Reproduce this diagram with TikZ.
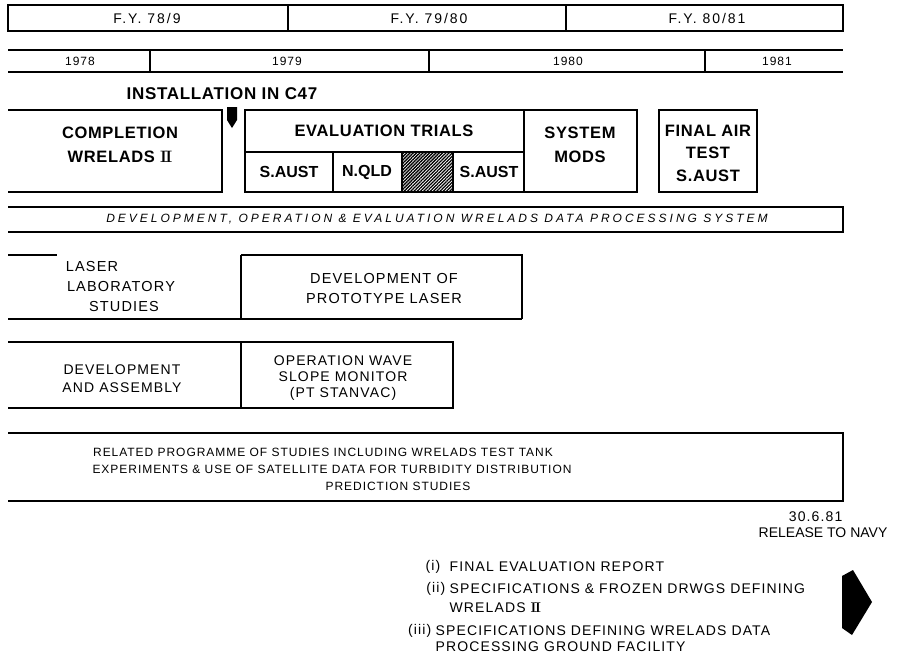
\documentclass[tikz,border=0pt]{standalone}
\usepackage{fontspec}
\usepackage{tikz}
\usetikzlibrary{patterns.meta}
\newfontfamily\plainsans{Liberation Sans}
\newfontfamily\boldsans{Liberation Sans}[LetterSpace=4]
\newfontfamily\fysans{Liberation Sans}[LetterSpace=14]
\newfontfamily\boxsans{Liberation Sans}[LetterSpace=8]
\newfontfamily\widesans{Liberation Sans}[LetterSpace=25]
\newcommand{\romtwo}{{\rmfamily\bfseries I\kern-0.1em I}}
\tikzset{
  fy/.style={font={\fysans\fontsize{14}{16}\selectfont},inner sep=0pt},
  yr/.style={font={\boxsans\fontsize{12}{14}\selectfont},inner sep=0pt},
  bold/.style={font={\boldsans\bfseries\fontsize{16.5}{24}\selectfont},align=center,inner sep=0pt},
  cell/.style={font={\plainsans\bfseries\fontsize{16}{20}\selectfont},inner sep=0pt},
  txt/.style={font={\boxsans\fontsize{14.5}{20}\selectfont},align=center,inner sep=0pt},
  small/.style={font={\boxsans\fontsize{12}{17}\selectfont},inner sep=0pt},
  item/.style={font={\boxsans\fontsize{14}{18}\selectfont},inner sep=0pt}
}

\begin{document}
\begin{tikzpicture}[x=1pt,y=-1pt,line width=1.3pt]
  \useasboundingbox (0,0) rectangle (897,654);
  % financial years
  \draw (8,5) rectangle (843,31);
  \draw (288,5)--(288,31) (566,5)--(566,31);
  \node[fy] (fy1) at (147,18) {F.Y. 78/9};
  \node[fy] (fy2) at (429,18) {F.Y. 79/80};
  \node[fy] (fy3) at (707,18) {F.Y. 80/81};
  % calendar years
  \draw (8,50)--(843,50) (8,72)--(843,72);
  \foreach \x in {150,429,705} \draw (\x,50)--(\x,72);
  \node[yr] (y78) at (80,61) {1978};
  \node[yr] (y79) at (287,61) {1979};
  \node[yr] (y80) at (568,61) {1980};
  \node[yr] (y81) at (777,61) {1981};
  % WRELADS II trials
  \node[bold,font={\boldsans\bfseries\fontsize{17}{20}\selectfont}] (inst) at (222,94) {INSTALLATION IN C47};
  \fill (227,107)--(237,107)--(237,120)--(232,128)--(227,120)--cycle;
  \draw (8,110)--(222,110)--(222,192)--(8,192);
  \node[bold] (compl) at (120,145) {COMPLETION\\WRELADS \romtwo};
  \draw (245,110) rectangle (637,192);
  \draw (245,152)--(524,152) (524,110)--(524,192) (333,152)--(333,192);
  \fill[pattern={Lines[angle=45,distance=2.3pt,line width=1.35pt]}] (402,152) rectangle (453,192);
  \draw (402,152) rectangle (453,192);
  \node[bold] (eval) at (384,131) {EVALUATION TRIALS};
  \node[cell] (sa1) at (289,172) {S.AUST};
  \node[cell] (nq) at (367,172) {N.QLD};
  \node[cell] (sa2) at (489,172) {S.AUST};
  \node[bold] (mods) at (580,145) {SYSTEM\\MODS};
  \draw (659,110) rectangle (757,192);
  \node[bold,font={\boldsans\bfseries\fontsize{16.5}{22.5}\selectfont}] (final) at (708,153) {FINAL AIR\\TEST\\S.AUST};
  % data processing
  \draw (8,207)--(843,207)--(843,232)--(8,232);
  \node[small,font={\widesans\itshape\fontsize{12}{14}\selectfont}] (dps) at (437,219)
    {DEVELOPMENT, OPERATION \& EVALUATION WRELADS DATA PROCESSING SYSTEM};
  % laser
  \draw (8,255)--(57,255);
  \draw (241,255)--(522,255)--(522,319) (241,255)--(241,319) (8,319)--(522,319);
  \node[txt] (las1) at (92,267) {LASER};
  \node[txt] (las2) at (121,287) {LABORATORY};
  \node[txt] (las3) at (124,307) {STUDIES};
  \node[txt] (proto) at (384,289) {DEVELOPMENT OF\\PROTOTYPE LASER};
  % wave slope monitor
  \draw (8,342)--(453,342)--(453,408)--(8,408) (241,342)--(241,408);
  \node[txt,font={\boxsans\fontsize{14}{18}\selectfont}] (assy) at (122,379) {DEVELOPMENT\\AND ASSEMBLY};
  \node[txt,font={\boxsans\fontsize{14}{16}\selectfont}] (wave) at (343,378) {OPERATION WAVE\\SLOPE MONITOR\\(PT STANVAC)};
  % related studies
  \draw (8,433)--(843,433)--(843,501)--(8,501);
  \node[small] (rel1) at (323,452) {RELATED PROGRAMME OF STUDIES INCLUDING WRELADS TEST TANK};
  \node[small] (rel2) at (332,469) {EXPERIMENTS \& USE OF SATELLITE DATA FOR TURBIDITY DISTRIBUTION};
  \node[small] (rel3) at (398,486) {PREDICTION STUDIES};
  % release
  \node[item,anchor=east] (date) at (843,517) {30.6.81};
  \node[item,font={\plainsans\fontsize{14}{18}\selectfont},anchor=east] (rel) at (888,533) {RELEASE TO NAVY};
  \node[item,anchor=east] (n1) at (441,567) {(i)};
  \node[item,anchor=west] (t1) at (449,567) {FINAL EVALUATION REPORT};
  \node[item,anchor=east] (n2) at (446,589) {(ii)};
  \node[item,anchor=west] (t2) at (449,589) {SPECIFICATIONS \& FROZEN DRWGS DEFINING};
  \node[item,anchor=west] (t2b) at (449,608) {WRELADS \romtwo};
  \node[item,anchor=east] (n3) at (432,631) {(iii)};
  \node[item,anchor=west] (t3) at (435,631) {SPECIFICATIONS DEFINING WRELADS DATA};
  \node[item,anchor=west] (t3b) at (435,647) {PROCESSING GROUND FACILITY};
  \fill (842,576)--(853,570)--(872,602)--(852,635)--(842,628)--cycle;
\end{tikzpicture}
\end{document}
